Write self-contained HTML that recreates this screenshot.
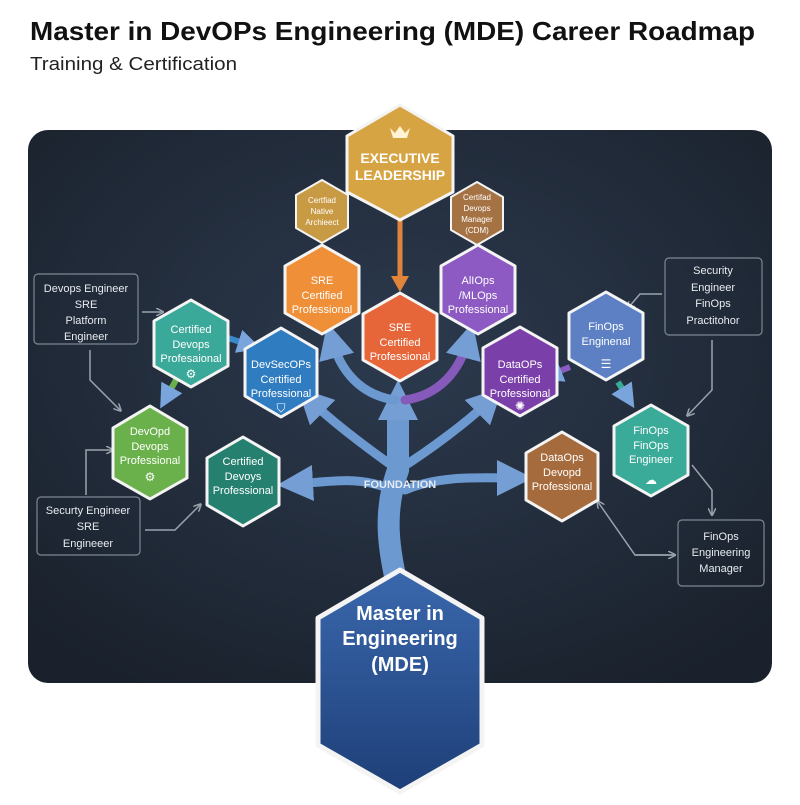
<!DOCTYPE html>
<html><head><meta charset="utf-8"><style>
body{margin:0;background:#fff;width:800px;height:800px;overflow:hidden;font-family:"Liberation Sans",sans-serif}
</style></head><body>
<svg width="800" height="800" viewBox="0 0 800 800" xmlns="http://www.w3.org/2000/svg" font-family="Liberation Sans, sans-serif">
<defs>
<radialGradient id="bg" cx="50%" cy="40%" r="70%"><stop offset="0" stop-color="#2c3a4e"/><stop offset="1" stop-color="#1a212c"/></radialGradient>
<linearGradient id="mde" x1="0" y1="0" x2="0" y2="1"><stop offset="0" stop-color="#3a68ad"/><stop offset="1" stop-color="#1e3f78"/></linearGradient>
<marker id="ab" markerWidth="4" markerHeight="4" refX="2" refY="2" orient="auto" markerUnits="strokeWidth"><path d="M0,0 L4,2 L0,4 z" fill="#7aa5dc"/></marker>
<marker id="ag" markerWidth="8" markerHeight="8" refX="6" refY="4" orient="auto" markerUnits="userSpaceOnUse"><path d="M0,0 L8,4 L0,8" fill="none" stroke="#9aa3ad" stroke-width="1.5"/></marker>
</defs>
<text x="30" y="40" font-size="26" font-weight="bold" fill="#111" textLength="725" lengthAdjust="spacingAndGlyphs">Master in DevOPs Engineering (MDE) Career Roadmap</text>
<text x="30" y="70" font-size="18" fill="#222" textLength="207" lengthAdjust="spacingAndGlyphs">Training &amp; Certification</text>
<rect x="28" y="130" width="744" height="553" rx="20" fill="url(#bg)"/>
<!-- tree -->
<g fill="none" stroke="#6f9fd8" stroke-linecap="round" opacity="0.95">
<path d="M400,600 C392,560 380,520 398,470 L398,410" stroke-width="22"/>
<path d="M398,470 C370,450 330,420 310,400" stroke-width="9" marker-end="url(#ab)"/>
<path d="M398,470 C430,450 470,420 490,400" stroke-width="9" marker-end="url(#ab)"/>
<path d="M392,490 C360,475 330,482 295,484" stroke-width="9" marker-end="url(#ab)"/>
<path d="M405,490 C440,475 480,478 515,478" stroke-width="9" marker-end="url(#ab)"/>
<path d="M398,440 L398,400" stroke-width="10" marker-end="url(#ab)"/>
<path d="M395,400 C360,395 340,370 332,340" stroke-width="9" marker-end="url(#ab)"/>
<path d="M405,400 C440,395 460,370 468,340" stroke-width="9" stroke="#8a5cc0" marker-end="url(#ab)"/>
</g>
<line x1="400" y1="218" x2="400" y2="280" stroke="#e0843a" stroke-width="5"/>
<path d="M391,276 L409,276 L400,292 z" fill="#e0843a"/>
<path d="M228,338 L250,345" stroke="#3a88c8" stroke-width="6" marker-end="url(#ab)"/>
<path d="M176,380 L166,398" stroke="#6ab04a" stroke-width="6" marker-end="url(#ab)"/>
<path d="M570,367 L550,375" stroke="#8a5cc0" stroke-width="6" marker-end="url(#ab)"/>
<path d="M618,382 L628,398" stroke="#3aaa98" stroke-width="6" marker-end="url(#ab)"/>
<text x="400" y="488" font-size="11" font-weight="bold" fill="#e6ecf5" text-anchor="middle">FOUNDATION</text>
<!-- connectors -->
<g fill="none" stroke="#9aa3ad" stroke-width="1.5">
<path d="M142,312 L162,312" marker-end="url(#ag)"/>
<path d="M90,350 L90,380 L120,410" marker-end="url(#ag)"/>
<path d="M86,495 L86,450 L112,450" marker-end="url(#ag)"/>
<path d="M145,530 L175,530 L200,505" marker-end="url(#ag)"/>
<path d="M662,294 L640,294 L628,308" marker-end="url(#ag)"/>
<path d="M712,340 L712,390 L688,415" marker-end="url(#ag)"/>
<path d="M692,465 L712,490 L712,514" marker-end="url(#ag)"/>
<path d="M674,555 L635,555 L598,502" marker-end="url(#ag)"/>
<path d="M635,555 L674,555" marker-end="url(#ag)"/>
</g>
<!-- boxes -->
<g fill="none" stroke="#7d8792" stroke-width="1.2">
<rect x="34" y="274" width="104" height="70" rx="4"/>
<rect x="665" y="258" width="97" height="77" rx="4"/>
<rect x="37" y="497" width="103" height="58" rx="4"/>
<rect x="678" y="520" width="86" height="66" rx="4"/>
</g>
<g fill="#e8ecf0" font-size="11" text-anchor="middle">
<text x="86" y="292">Devops Engineer</text><text x="86" y="308">SRE</text><text x="86" y="324">Platform</text><text x="86" y="340">Engineer</text>
<text x="713" y="274">Security</text><text x="713" y="291">Engineer</text><text x="713" y="307">FinOps</text><text x="713" y="324">Practitohor</text>
<text x="88" y="514">Securty Engineer</text><text x="88" y="530">SRE</text><text x="88" y="547">Engineeer</text>
<text x="721" y="540">FinOps</text><text x="721" y="556">Engineering</text><text x="721" y="572">Manager</text>
</g>
<!-- hexes -->
<g stroke="#f4f4f4" stroke-width="3" stroke-linejoin="round">
<polygon points="400,105 453,136 453,192 400,220 347,192 347,136" fill="#d7a444"/>
<polygon points="322,180 348,195 348,228 322,243 296,228 296,195" fill="#c99a44" stroke-width="2"/>
<polygon points="477,182 503,197 503,230 477,245 451,230 451,197" fill="#a57243" stroke-width="2"/>
<polygon points="322,245 359,266 359,313 322,334 285,313 285,266" fill="#ef8f37"/>
<polygon points="478,245 515,266 515,313 478,334 441,313 441,266" fill="#8c5ac2"/>
<polygon points="400,293 437,314 437,360 400,381 363,360 363,314" fill="#e6663a"/>
<polygon points="191,300 228,321 228,366 191,387 154,366 154,321" fill="#3ba999"/>
<polygon points="281,328 317,349 317,396 281,417 245,396 245,349" fill="#2f7cc1"/>
<polygon points="520,327 557,348 557,395 520,416 483,395 483,348" fill="#7a3fa8"/>
<polygon points="606,292 643,313 643,359 606,380 569,359 569,313" fill="#5c80c3"/>
<polygon points="150,406 187,428 187,478 150,499 113,478 113,428" fill="#6bb14b"/>
<polygon points="243,437 279,458 279,505 243,526 207,505 207,458" fill="#26806f"/>
<polygon points="562,432 598,453 598,500 562,521 526,500 526,453" fill="#a66b3c"/>
<polygon points="651,405 688,426 688,475 651,496 614,475 614,426" fill="#3aab99"/>
<polygon points="400,570 482,618 482,745 400,792 318,745 318,618" fill="url(#mde)" stroke-width="5"/>
</g>
<path d="M390,128 L393,138 L407,138 L410,128 L405,133 L400,126 L395,133 z" fill="#fff3d6"/>
<g fill="#fff" text-anchor="middle" font-weight="bold">
<text x="400" y="163" font-size="14">EXECUTIVE</text><text x="400" y="180" font-size="14">LEADERSHIP</text>
<g font-size="8" font-weight="normal"><text x="322" y="203">Certfiad</text><text x="322" y="214">Native</text><text x="322" y="225">Archieect</text>
<text x="477" y="200">Certifad</text><text x="477" y="211">Devops</text><text x="477" y="222">Manager</text><text x="477" y="233">(CDM)</text></g>
<g font-size="11" font-weight="normal">
<text x="322" y="284">SRE</text><text x="322" y="299">Certified</text><text x="322" y="313">Professional</text>
<text x="478" y="284">AlIOps</text><text x="478" y="299">/MLOps</text><text x="478" y="313">Professional</text>
<text x="400" y="331">SRE</text><text x="400" y="346">Certified</text><text x="400" y="360">Professional</text>
<text x="191" y="333">Certified</text><text x="191" y="348">Devops</text><text x="191" y="362">Profesaional</text>
<text x="281" y="368">DevSecOPs</text><text x="281" y="383">Certified</text><text x="281" y="397">Professional</text>
<text x="520" y="368">DataOPs</text><text x="520" y="383">Certified</text><text x="520" y="397">Professional</text>
<text x="606" y="330">FinOps</text><text x="606" y="345">Enginenal</text>
<text x="150" y="435">DevOpd</text><text x="150" y="450">Devops</text><text x="150" y="464">Professional</text>
<text x="243" y="465">Certified</text><text x="243" y="480">Devoys</text><text x="243" y="494">Professional</text>
<text x="562" y="461">DataOps</text><text x="562" y="476">Devopd</text><text x="562" y="490">Professional</text>
<text x="651" y="434">FinOps</text><text x="651" y="449">FinOps</text><text x="651" y="463">Engineer</text>
</g>
<g font-size="20"><text x="400" y="620">Master in</text><text x="400" y="645">Engineering</text><text x="400" y="671">(MDE)</text></g>
</g>
<g fill="#fff" font-size="12" text-anchor="middle"><text x="191" y="378">⚙</text><text x="150" y="481">⚙</text><text x="281" y="412">⛉</text><text x="606" y="368">☰</text><text x="520" y="410">✺</text><text x="651" y="484">☁</text></g>
</svg>
</body></html>
